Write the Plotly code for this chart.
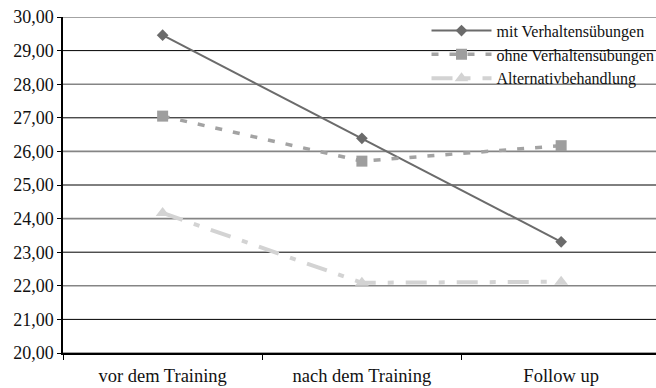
import plotly.graph_objects as go

# Messzeitpunkte
categories = ["vor dem Training", "nach dem Training", "Follow up"]

# Mittelwerte je Gruppe
mit_verhalten = [29.46, 26.39, 23.31]
ohne_verhalten = [27.05, 25.71, 26.17]
alternativ = [24.17, 22.09, 22.12]

# Achsenbeschriftung der y-Achse
y_ticks = list(range(20, 31))
y_tick_labels = [f"{v},00" for v in y_ticks]

series = [
    ("mit Verhaltensübungen", mit_verhalten,
     dict(color="#6b6b6b", width=2, dash="solid"),
     dict(symbol="diamond", size=9, color="#6b6b6b")),
    ("ohne Verhaltensübungen", ohne_verhalten,
     dict(color="#a3a3a3", width=3.5, dash="7px,11px"),
     dict(symbol="square", size=11, color="#9e9e9e")),
    ("Alternativbehandlung", alternativ,
     dict(color="#d3d3d3", width=4, dash="21px,12px,6px,12px"),
     dict(symbol="triangle-up", size=12, color="#d3d3d3")),
]

fig = go.Figure()
for name, values, line, marker in series:
    fig.add_trace(go.Scatter(
        x=categories, y=values, name=name, mode="lines+markers",
        line=line, marker=dict(line=dict(width=0), **marker),
    ))

# Horizontale Hilfslinien: ungerade Werte schwarz, gerade Werte grau
for v in y_ticks:
    even = v % 2 == 0
    fig.add_shape(
        type="line", xref="paper", yref="y", x0=0, x1=1, y0=v, y1=v,
        line=dict(color="#858585" if even else "#000000",
                  width=1.6 if even else 1),
        layer="below",
    )

serif = "Liberation Serif, Times New Roman, serif"

fig.update_layout(
    width=656, height=388,
    margin=dict(l=63, r=0, t=17, b=35, autoexpand=False),
    paper_bgcolor="white", plot_bgcolor="white",
    font=dict(family=serif, size=18, color="#111111"),
    showlegend=True,
    legend=dict(
        x=0.613, y=1.01, xanchor="left", yanchor="top",
        bgcolor="rgba(0,0,0,0)", borderwidth=0,
        font=dict(family=serif, size=16, color="#111111"),
        itemwidth=60, tracegroupgap=0,
    ),
    xaxis=dict(
        type="category", range=[-0.5, 2.476],
        tickson="boundaries", ticks="outside", ticklen=5,
        tickcolor="#000000", tickwidth=1,
        showline=True, linecolor="#000000", linewidth=1.5,
        showgrid=False, zeroline=False,
        ticklabelstandoff=5,
        tickfont=dict(family=serif, size=18.5),
    ),
    yaxis=dict(
        range=[20, 30], tickvals=y_ticks, ticktext=y_tick_labels,
        ticks="outside", ticklen=4, tickcolor="#000000", tickwidth=1,
        showline=True, linecolor="#000000", linewidth=1.5,
        showgrid=False, zeroline=False,
        tickfont=dict(family=serif, size=18),
    ),
)

fig.write_html("out.html")
